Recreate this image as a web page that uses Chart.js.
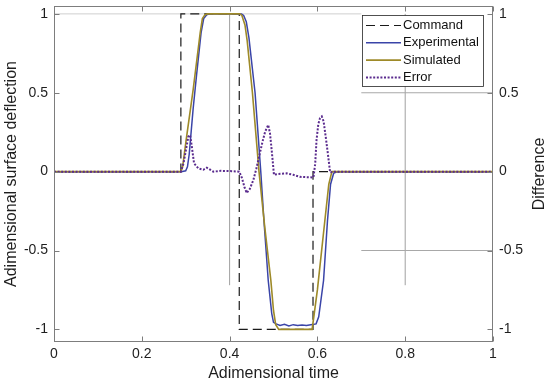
<!DOCTYPE html>
<html>
<head>
<meta charset="utf-8">
<script src="https://cdn.jsdelivr.net/npm/chart.js@4/dist/chart.umd.min.js"></script>
<style>
html,body{margin:0;padding:0;background:#fff;}
#wrap{width:550px;height:384px;}
</style>
</head>
<body>
<div id="wrap"><canvas id="c" width="550" height="384"></canvas></div>
<script>
// ---- tick labels ----
const xTickValues = [0, 0.2, 0.4, 0.6, 0.8, 1];
const yTickValues = [-1, -0.5, 0, 0.5, 1];

// ---- Command (step input) ----
const cmdT = [0, 0.289, 0.289, 0.422, 0.422, 0.590, 0.590, 1];
const cmdY = [0, 0, 1, 1, -1, -1, 0, 0];

// ---- Experimental ----
const expT = [0, 0.290, 0.300, 0.304, 0.308, 0.317, 0.325, 0.335, 0.341, 0.348, 0.355, 0.400, 0.427, 0.432, 0.438, 0.444, 0.458, 0.471, 0.478, 0.488, 0.496, 0.500, 0.506, 0.515, 0.525, 0.535, 0.545, 0.555, 0.565, 0.575, 0.585, 0.592, 0.597, 0.603, 0.614, 0.623, 0.630, 0.637, 0.645, 1];
const expY = [0, 0, 0.005, 0.03, 0.11, 0.40, 0.62, 0.88, 0.97, 0.995, 1, 1, 1, 0.99, 0.95, 0.85, 0.5, 0, -0.3, -0.69, -0.9, -0.955, -0.965, -0.975, -0.968, -0.978, -0.97, -0.975, -0.972, -0.975, -0.97, -0.968, -0.965, -0.92, -0.69, -0.31, -0.08, -0.01, 0, 0];

// ---- Simulated ----
const simT = [0, 0.289, 0.293, 0.301, 0.317, 0.333, 0.338, 0.344, 0.350, 0.400, 0.423, 0.428, 0.435, 0.440, 0.452, 0.467, 0.480, 0.494, 0.500, 0.505, 0.512, 0.588, 0.600, 0.617, 0.626, 0.633, 1];
const simY = [0, 0, 0.03, 0.2, 0.52, 0.88, 0.97, 0.995, 1, 1, 1, 0.99, 0.93, 0.83, 0.5, 0, -0.35, -0.69, -0.88, -0.97, -1, -1, -0.75, -0.31, -0.08, 0, 0];

// ---- Error (difference) ----
const errT = [0, 0.289, 0.295, 0.302, 0.306, 0.310, 0.314, 0.319, 0.329, 0.340, 0.348, 0.363, 0.380, 0.405, 0.422, 0.428, 0.434, 0.439, 0.446, 0.454, 0.461, 0.468, 0.475, 0.481, 0.488, 0.492, 0.495, 0.498, 0.501, 0.510, 0.530, 0.545, 0.560, 0.575, 0.591, 0.595, 0.598, 0.602, 0.606, 0.610, 0.614, 0.619, 0.624, 0.629, 0.640, 1];
const errY = [0, 0, 0.052, 0.16, 0.222, 0.232, 0.158, 0.052, 0.02, 0.012, 0.025, 0.0, 0.005, 0.003, 0.0, -0.04, -0.10, -0.135, -0.11, -0.054, 0.02, 0.105, 0.19, 0.254, 0.296, 0.243, 0.16, 0.073, -0.02, -0.015, -0.011, -0.02, -0.033, -0.035, -0.037, 0.05, 0.2, 0.30, 0.34, 0.35, 0.32, 0.22, 0.11, -0.005, 0, 0];

// ---- partial reference lines seen in the figure ----
const refTopX = [0, 0.7], refTopY = [1, 1];
const refHalfX = [0.7, 1], refHalfY = [0.5, 0.5];
const refNegHalfX = [0.7, 1], refNegHalfY = [-0.5, -0.5];
const refV1X = [0.4, 0.4], refV1Y = [-0.72, 1];
const refV2X = [0.8, 0.8], refV2Y = [-0.72, 1];

const xTitle = 'Adimensional time';
const yTitle = 'Adimensional surface deflection';
const y2Title = 'Difference';

const pts = (t, y) => t.map((v, i) => ({x: v, y: y[i]}));

Chart.defaults.font.family = '"Liberation Sans", Arial, sans-serif';
Chart.defaults.color = '#1e1e1e';

const refStyle = (t, y, col) => ({
  data: pts(t, y), borderColor: col, borderWidth: 1, pointRadius: 0, fill: false,
  tension: 0, order: 10, isRef: true, yAxisID: 'y'
});

const framePlugin = {
  id: 'frameTicks',
  afterDatasetsDraw(chart) {
    const {ctx, chartArea: a, scales} = chart;
    ctx.save();
    ctx.strokeStyle = '#7d7d7d';
    ctx.lineWidth = 1;
    const L = Math.round(a.left) + 0.5, R = Math.round(a.right) - 0.5;
    const T = Math.round(a.top) + 0.5, B = Math.round(a.bottom) - 0.5;
    ctx.strokeRect(L, T, R - L, B - T);
    ctx.beginPath();
    xTickValues.forEach(v => {
      const px = Math.round(scales.x.getPixelForValue(v)) + 0.5;
      ctx.moveTo(px, B); ctx.lineTo(px, B - 5);
      ctx.moveTo(px, T); ctx.lineTo(px, T + 5);
    });
    yTickValues.forEach(v => {
      const py = Math.round(scales.y.getPixelForValue(v)) + 0.5;
      ctx.moveTo(L, py); ctx.lineTo(L + 5, py);
      const py2 = Math.round(scales.y2.getPixelForValue(v)) + 0.5;
      ctx.moveTo(R, py2); ctx.lineTo(R - 5, py2);
    });
    ctx.stroke();
    ctx.restore();
  },
  afterDraw(chart) {
    const {ctx, chartArea: a} = chart;
    // right axis title (reads bottom-to-top)
    ctx.save();
    ctx.font = '16px "Liberation Sans", Arial, sans-serif';
    ctx.fillStyle = '#1e1e1e';
    ctx.textAlign = 'center';
    ctx.textBaseline = 'middle';
    ctx.translate(540, (a.top + a.bottom) / 2);
    ctx.rotate(-Math.PI / 2);
    ctx.fillText(y2Title, 0, 0);
    ctx.restore();

    // legend box
    const items = chart.data.datasets.filter(d => !d.isRef);
    const bx = 362.5, by = 15.5, bw = 121, bh = 71;
    ctx.save();
    ctx.fillStyle = '#ffffff';
    ctx.fillRect(bx, by, bw, bh);
    ctx.strokeStyle = '#262626';
    ctx.lineWidth = 0.8;
    ctx.strokeRect(bx, by, bw, bh);
    ctx.font = '13px "Liberation Sans", Arial, sans-serif';
    ctx.textBaseline = 'middle';
    ctx.textAlign = 'left';
    items.forEach((d, i) => {
      const yy = 25.5 + i * 17.3;
      ctx.beginPath();
      ctx.strokeStyle = d.borderColor;
      ctx.lineWidth = d.borderWidth;
      ctx.setLineDash(d.borderDash || []);
      ctx.moveTo(366, yy); ctx.lineTo(401, yy);
      ctx.stroke();
      ctx.setLineDash([]);
      ctx.fillStyle = '#111';
      ctx.fillText(d.label, 403, yy);
    });
    ctx.restore();
  }
};

const fitY = w => s => { s.width = w; s.paddingTop = 0; s.paddingBottom = 0; };

new Chart(document.getElementById('c'), {
  type: 'line',
  data: {
    datasets: [
      {label: 'Command', data: pts(cmdT, cmdY), borderColor: '#1a1a1a', borderWidth: 1.2, borderDash: [9, 5], pointRadius: 0, fill: false, tension: 0, order: 4, yAxisID: 'y'},
      {label: 'Experimental', data: pts(expT, expY), borderColor: '#3a44a8', borderWidth: 1.5, pointRadius: 0, fill: false, tension: 0, order: 3, yAxisID: 'y'},
      {label: 'Simulated', data: pts(simT, simY), borderColor: '#9e8a28', borderWidth: 1.6, pointRadius: 0, fill: false, tension: 0, order: 2, yAxisID: 'y'},
      {label: 'Error', data: pts(errT, errY), borderColor: '#5a2b8e', borderWidth: 2, borderDash: [2, 1.6], pointRadius: 0, fill: false, tension: 0, order: 1, yAxisID: 'y2'},
      refStyle(refTopX, refTopY, '#cfcfcf'),
      refStyle(refHalfX, refHalfY, '#a8a8a8'),
      refStyle(refNegHalfX, refNegHalfY, '#a8a8a8'),
      refStyle(refV1X, refV1Y, '#a0a0a0'),
      refStyle(refV2X, refV2Y, '#a0a0a0')
    ]
  },
  options: {
    responsive: false,
    animation: false,
    devicePixelRatio: 1,
    layout: {padding: {top: 6, left: 0, right: 0, bottom: 0}},
    plugins: {legend: {display: false}, tooltip: {enabled: false}},
    scales: {
      x: {
        type: 'linear', position: 'bottom', min: 0, max: 1,
        grid: {display: false, drawTicks: false}, border: {display: false},
        ticks: {padding: 4, font: {size: 14}, color: '#1e1e1e', maxRotation: 0, callback: v => String(Math.round(v * 10) / 10)},
        title: {display: true, text: xTitle, font: {size: 16}, color: '#1e1e1e', padding: {top: 0, bottom: 1}},
        afterBuildTicks: s => { s.ticks = xTickValues.map(v => ({value: v})); },
        afterFit: s => { s.height = 42; s.paddingLeft = 0; s.paddingRight = 0; }
      },
      y: {
        type: 'linear', position: 'left', min: -1.08, max: 1.05,
        grid: {display: false, drawTicks: false}, border: {display: false},
        ticks: {padding: 6, font: {size: 14}, color: '#1e1e1e', callback: v => String(v)},
        title: {display: true, text: yTitle, font: {size: 16}, color: '#1e1e1e', padding: {top: 2.4, bottom: 0}},
        afterBuildTicks: s => { s.ticks = yTickValues.map(v => ({value: v})); },
        afterFit: fitY(54)
      },
      y2: {
        type: 'linear', position: 'right', min: -1.08, max: 1.05,
        grid: {display: false, drawTicks: false}, border: {display: false},
        ticks: {padding: 6, font: {size: 14}, color: '#1e1e1e', callback: v => String(v)},
        title: {display: false, text: y2Title},
        afterBuildTicks: s => { s.ticks = yTickValues.map(v => ({value: v})); },
        afterFit: fitY(57)
      }
    }
  },
  plugins: [framePlugin]
});
</script>
</body>
</html>
